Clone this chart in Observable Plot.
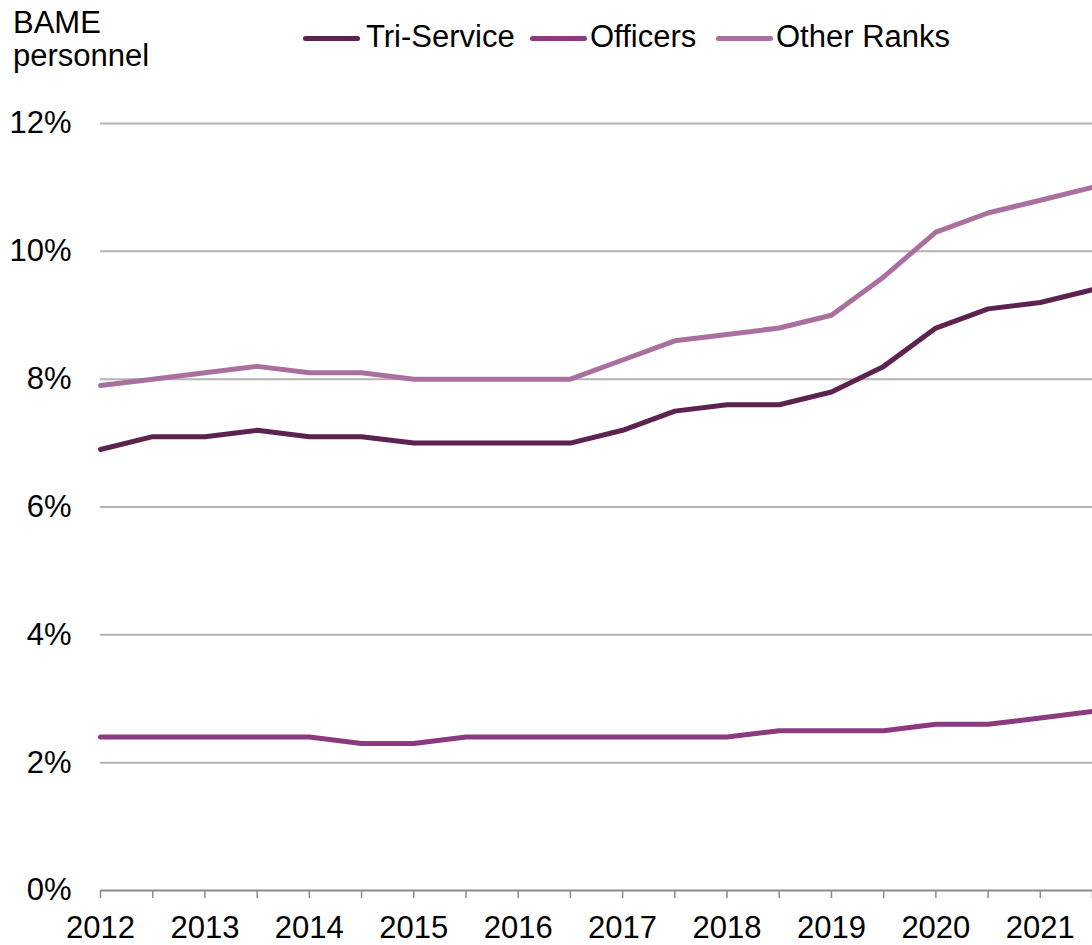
<!DOCTYPE html>
<html><head><meta charset="utf-8">
<script src="https://cdn.jsdelivr.net/npm/d3@7"></script>
<script src="https://cdn.jsdelivr.net/npm/@observablehq/plot@0.6"></script>
<style>
body{margin:0;background:#fff;font-family:"Liberation Sans",Arial,sans-serif;}
#wrap{width:1092px;}
#head{position:relative;height:100px;font-size:31px;color:#000;}
#title{position:absolute;left:13px;top:7.3px;line-height:32.5px;}
.item{position:absolute;top:19.5px;height:33px;line-height:33px;white-space:nowrap;}
.swatch{position:absolute;width:57px;height:5px;border-radius:3px;}
</style></head><body>
<div id="wrap"><div id="head"></div><div id="chart"></div></div>
<script>
const periods = [2012, 2012.5, 2013, 2013.5, 2014, 2014.5, 2015, 2015.5, 2016, 2016.5,
                 2017, 2017.5, 2018, 2018.5, 2019, 2019.5, 2020, 2020.5, 2021, 2021.5];
const triService = [6.9, 7.1, 7.1, 7.2, 7.1, 7.1, 7.0, 7.0, 7.0, 7.0,
                    7.2, 7.5, 7.6, 7.6, 7.8, 8.2, 8.8, 9.1, 9.2, 9.4];
const officers   = [2.4, 2.4, 2.4, 2.4, 2.4, 2.3, 2.3, 2.4, 2.4, 2.4,
                    2.4, 2.4, 2.4, 2.5, 2.5, 2.5, 2.6, 2.6, 2.7, 2.8];
const otherRanks = [7.9, 8.0, 8.1, 8.2, 8.1, 8.1, 8.0, 8.0, 8.0, 8.0,
                    8.3, 8.6, 8.7, 8.8, 9.0, 9.6, 10.3, 10.6, 10.8, 11.0];
const seriesNames = ["Tri-Service", "Officers", "Other Ranks"];
const seriesColors = ["#5c2250", "#8b3a80", "#a9709f"];
const yTicks = [0, 2, 4, 6, 8, 10, 12];
const xLabelYears = [2012, 2013, 2014, 2015, 2016, 2017, 2018, 2019, 2020, 2021];
const titleLines = ["BAME", "personnel"];

// header: title + legend
const head = document.getElementById("head");
const title = document.createElement("div");
title.id = "title";
title.innerHTML = titleLines.join("<br>");
head.appendChild(title);
const swatchLeft = [303, 530, 716];
const textLeft = [366, 590, 776];
seriesNames.forEach((name, i) => {
  const sw = document.createElement("div");
  sw.className = "swatch";
  sw.style.left = swatchLeft[i] + "px";
  sw.style.top = "35.5px";
  sw.style.background = seriesColors[i];
  head.appendChild(sw);
  const t = document.createElement("div");
  t.className = "item";
  t.style.left = textLeft[i] + "px";
  t.textContent = name;
  head.appendChild(t);
});

const seriesValues = [triService, officers, otherRanks];
const data = seriesNames.flatMap((name, i) =>
  periods.map((p, j) => ({period: p, value: seriesValues[i][j], series: name})));

const chart = Plot.plot({
  width: 1092,
  height: 845,
  marginTop: 23,
  marginBottom: 55,
  marginLeft: 100,
  marginRight: 0,
  style: {fontFamily: "'Liberation Sans', Arial, sans-serif", fontSize: "31px", color: "#000", background: "#fff", overflow: "visible"},
  x: {domain: [2012, 2021.5]},
  y: {domain: [0, 12]},
  color: {domain: seriesNames, range: seriesColors},
  marks: [
    Plot.ruleY(yTicks.filter(d => d > 0), {stroke: "#b3b3b3", strokeWidth: 2}),
    Plot.ruleY([0], {stroke: "#8c8c8c", strokeWidth: 2}),
    Plot.axisY({ticks: yTicks, tickSize: 0, tickPadding: 29, tickFormat: d => d + "%", fontSize: 31, fill: "#000", label: null}),
    Plot.axisX({ticks: periods, tickSize: 8, tickPadding: 17, stroke: "#8c8c8c", strokeWidth: 1.5, strokeOpacity: 1,
                tickFormat: d => xLabelYears.includes(d) ? String(d) : "", fontSize: 31, fill: "#000", label: null}),
    Plot.line(data, {x: "period", y: "value", z: "series", stroke: "series", strokeWidth: 5})
  ]
});
document.getElementById("chart").appendChild(chart);
</script>
</body></html>
